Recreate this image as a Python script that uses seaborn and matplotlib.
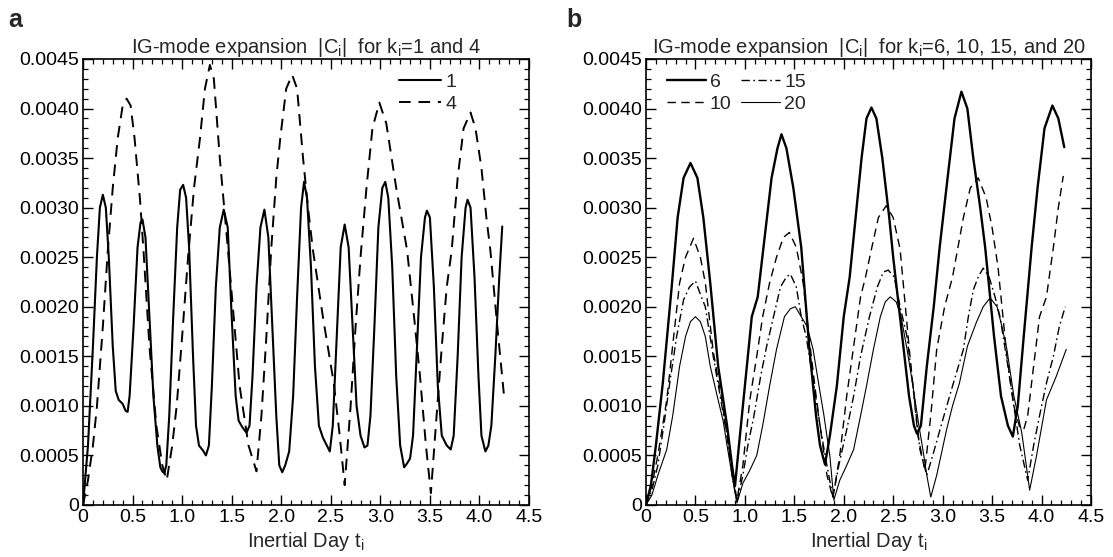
import numpy as np
import matplotlib
matplotlib.use("Agg")
import matplotlib.pyplot as plt
from matplotlib.ticker import MultipleLocator, FuncFormatter
import seaborn as sns

sns.set_theme(style="ticks")
plt.rcParams["font.family"] = ["Liberation Sans", "DejaVu Sans"]
plt.rcParams["mathtext.fontset"] = "custom"
plt.rcParams["mathtext.rm"] = "Liberation Sans"

# panel a: k_i = 1 (solid) and 4 (dashed)
t_k1 = [0.00, 0.05, 0.10, 0.14, 0.17, 0.20, 0.23, 0.26, 0.30, 0.33, 0.36, 0.40, 0.43, 0.45,
        0.47, 0.51, 0.55, 0.58, 0.60, 0.63, 0.67, 0.71, 0.75, 0.78, 0.80, 0.82, 0.84, 0.87,
        0.91, 0.95, 0.98, 1.01, 1.04, 1.07, 1.11, 1.14, 1.17, 1.21, 1.24, 1.27, 1.30, 1.34,
        1.38, 1.42, 1.46, 1.50, 1.54, 1.57, 1.61, 1.65, 1.68, 1.71, 1.75, 1.79, 1.83, 1.87,
        1.91, 1.95, 1.98, 2.01, 2.04, 2.08, 2.12, 2.16, 2.20, 2.23, 2.26, 2.30, 2.34, 2.38,
        2.42, 2.46, 2.49, 2.52, 2.56, 2.60, 2.64, 2.68, 2.72, 2.76, 2.80, 2.84, 2.87, 2.90,
        2.94, 2.98, 3.02, 3.05, 3.08, 3.12, 3.16, 3.20, 3.24, 3.27, 3.30, 3.33, 3.37, 3.41,
        3.45, 3.47, 3.50, 3.54, 3.58, 3.62, 3.67, 3.71, 3.74, 3.78, 3.82, 3.86, 3.88, 3.91,
        3.95, 3.99, 4.02, 4.06, 4.09, 4.12, 4.16, 4.20, 4.23]
c_k1 = [0.0, 0.0006, 0.0016, 0.0025, 0.0030, 0.00313, 0.0030, 0.0025, 0.0016, 0.00115, 0.00106,
        0.00102, 0.00095, 0.00094, 0.0011, 0.0018, 0.0026, 0.00285, 0.00288, 0.0027, 0.0019,
        0.0011, 0.0006, 0.00038, 0.00034, 0.00032, 0.0004, 0.0009, 0.0019, 0.0028, 0.00318,
        0.00323, 0.0031, 0.0026, 0.0015, 0.0008, 0.0006, 0.00055, 0.0005, 0.0006, 0.0012,
        0.0022, 0.0028, 0.00298, 0.0028, 0.0019, 0.0011, 0.00085, 0.00078, 0.00073, 0.0008,
        0.0013, 0.0022, 0.0028, 0.00298, 0.0027, 0.0018, 0.0009, 0.0004, 0.00033, 0.0004,
        0.00054, 0.0011, 0.0021, 0.0030, 0.00326, 0.0031, 0.0024, 0.0014, 0.0008, 0.00068,
        0.0006, 0.00054, 0.0008, 0.0017, 0.0026, 0.00283, 0.0026, 0.0018, 0.0010, 0.0007,
        0.00058, 0.0006, 0.0009, 0.0018, 0.0028, 0.0032, 0.00326, 0.0031, 0.0024, 0.0013,
        0.0006, 0.00038, 0.00042, 0.00047, 0.0007, 0.0016, 0.0025, 0.0029, 0.00297, 0.0029,
        0.0022, 0.0012, 0.0007, 0.0006, 0.00056, 0.0007, 0.0015, 0.0025, 0.0030, 0.00308,
        0.0030, 0.0023, 0.0013, 0.0007, 0.00054, 0.0006, 0.0008, 0.0015, 0.0023, 0.00281]

t_k4 = [0.00, 0.05, 0.10, 0.14, 0.20, 0.25, 0.30, 0.35, 0.40, 0.44, 0.48, 0.52, 0.575, 0.61,
        0.67, 0.74, 0.80, 0.845, 0.90, 0.945, 1.00, 1.06, 1.12, 1.18, 1.23, 1.28, 1.32, 1.38,
        1.46, 1.52, 1.58, 1.67, 1.75, 1.80, 1.85, 1.90, 1.95, 1.99, 2.05, 2.11, 2.16, 2.22,
        2.27, 2.32, 2.42, 2.53, 2.59, 2.64, 2.70, 2.75, 2.80, 2.86, 2.92, 2.99, 3.06, 3.16,
        3.27, 3.34, 3.40, 3.46, 3.51, 3.56, 3.62, 3.67, 3.72, 3.78, 3.84, 3.91, 3.96, 4.02,
        4.07, 4.11, 4.18, 4.25]
c_k4 = [0.0, 0.00025, 0.0006, 0.00099, 0.0018, 0.00257, 0.0032, 0.0037, 0.00403, 0.0041,
        0.00403, 0.0037, 0.00308, 0.00257, 0.0016, 0.0008, 0.0004, 0.00025, 0.0006, 0.0010,
        0.0017, 0.0025, 0.0032, 0.0037, 0.0042, 0.00444, 0.0043, 0.0035, 0.0026, 0.0019,
        0.0012, 0.0006, 0.00034, 0.0009, 0.0017, 0.0026, 0.0033, 0.0037, 0.0042, 0.00434,
        0.0042, 0.0035, 0.0030, 0.00257, 0.0019, 0.00123, 0.0007, 0.0002, 0.0010, 0.0018,
        0.0025, 0.0032, 0.0038, 0.00406, 0.00385, 0.0032, 0.00257, 0.0019, 0.0013, 0.0006,
        0.00012, 0.0008, 0.0016, 0.0022, 0.00257, 0.0033, 0.0038, 0.00396, 0.0038, 0.0034,
        0.0029, 0.00257, 0.0018, 0.00108]

# panel b: k_i = 6, 10, 15, 20
t_k6 = [0.00, 0.05, 0.10, 0.17, 0.26, 0.32, 0.38, 0.45, 0.52, 0.58, 0.65, 0.73, 0.82, 0.87,
        0.90, 0.94, 1.00, 1.07, 1.13, 1.20, 1.27, 1.33, 1.37, 1.42, 1.49, 1.57, 1.65, 1.72,
        1.76, 1.81, 1.86, 1.93, 2.00, 2.06, 2.12, 2.18, 2.23, 2.28, 2.33, 2.39, 2.46, 2.50,
        2.58, 2.66, 2.71, 2.74, 2.78, 2.84, 2.91, 2.97, 3.05, 3.12, 3.19, 3.25, 3.31, 3.38,
        3.43, 3.52, 3.59, 3.66, 3.71, 3.76, 3.82, 3.90, 3.96, 4.03, 4.11, 4.17, 4.23]
c_k6 = [0.0, 0.0002, 0.0006, 0.00123, 0.0022, 0.0029, 0.0033, 0.00345, 0.0033, 0.0029,
        0.00224, 0.0014, 0.0008, 0.0004, 0.00019, 0.0006, 0.0012, 0.0019, 0.0021, 0.0027,
        0.0033, 0.0036, 0.00374, 0.0036, 0.0032, 0.0026, 0.0016, 0.0009, 0.0006, 0.00041,
        0.0007, 0.0012, 0.0019, 0.0023, 0.0029, 0.0035, 0.0039, 0.00401, 0.0039, 0.0035,
        0.0029, 0.0025, 0.0018, 0.0011, 0.0008, 0.00072, 0.0008, 0.0014, 0.0020, 0.0026,
        0.0033, 0.0039, 0.00417, 0.0040, 0.0035, 0.0030, 0.0026, 0.0017, 0.0011, 0.0008,
        0.00069, 0.0010, 0.0017, 0.0026, 0.0032, 0.0038, 0.00403, 0.0039, 0.00361]

t_k10 = [0.00, 0.06, 0.12, 0.21, 0.28, 0.34, 0.40, 0.48, 0.55, 0.60, 0.68, 0.76, 0.82, 0.88,
         0.92, 0.98, 1.05, 1.12, 1.18, 1.25, 1.32, 1.39, 1.45, 1.52, 1.59, 1.66, 1.72, 1.76,
         1.83, 1.89, 1.96, 2.03, 2.10, 2.17, 2.22, 2.28, 2.35, 2.43, 2.50, 2.57, 2.66, 2.75,
         2.82, 2.88, 2.94, 3.02, 3.10, 3.21, 3.28, 3.36, 3.44, 3.50, 3.56, 3.65, 3.72, 3.78,
         3.82, 3.86, 3.92, 3.98, 4.05, 4.12, 4.17, 4.22]
c_k10 = [0.0, 0.0002, 0.0005, 0.00106, 0.0017, 0.00224, 0.0025, 0.00269, 0.0025, 0.00224,
         0.00155, 0.0011, 0.0007, 0.0003, 0.00005, 0.0004, 0.00106, 0.0015, 0.0019, 0.00224,
         0.0025, 0.0027, 0.00275, 0.0026, 0.00224, 0.0016, 0.0011, 0.0008, 0.0003, 0.00007,
         0.0005, 0.0011, 0.0016, 0.0021, 0.0023, 0.00258, 0.0029, 0.00302, 0.0029, 0.00258,
         0.0016, 0.0007, 0.00035, 0.0009, 0.00157, 0.0020, 0.0023, 0.0029, 0.0032, 0.0033,
         0.0031, 0.0028, 0.0024, 0.0015, 0.0010, 0.00078, 0.00076, 0.0009, 0.0014, 0.0019,
         0.0021, 0.0026, 0.0030, 0.00332]

t_k15 = [0.00, 0.06, 0.12, 0.18, 0.24, 0.31, 0.38, 0.44, 0.50, 0.56, 0.60, 0.68, 0.75, 0.82,
         0.87, 0.92, 0.98, 1.03, 1.09, 1.16, 1.22, 1.29, 1.36, 1.42, 1.46, 1.52, 1.57, 1.62,
         1.70, 1.76, 1.82, 1.89, 1.95, 2.03, 2.10, 2.17, 2.26, 2.34, 2.40, 2.45, 2.51, 2.57,
         2.64, 2.70, 2.77, 2.84, 2.90, 3.01, 3.10, 3.21, 3.26, 3.31, 3.36, 3.41, 3.47, 3.53,
         3.58, 3.66, 3.72, 3.78, 3.86, 3.92, 3.98, 4.05, 4.12, 4.18, 4.24]
c_k15 = [0.0, 0.00015, 0.0004, 0.0008, 0.00123, 0.0017, 0.00207, 0.0022, 0.00226, 0.0021,
         0.0020, 0.0015, 0.0011, 0.0007, 0.0003, 0.00003, 0.0003, 0.0006, 0.00089, 0.0013,
         0.0016, 0.0019, 0.0022, 0.0023, 0.00233, 0.0022, 0.0019, 0.0017, 0.0012, 0.0008,
         0.00045, 0.00008, 0.0004, 0.00076, 0.0011, 0.0015, 0.0019, 0.0022, 0.00235, 0.00237,
         0.0023, 0.0020, 0.0017, 0.0012, 0.00056, 0.0003, 0.0005, 0.00089, 0.0012, 0.00157,
         0.0019, 0.00217, 0.0023, 0.00239, 0.0023, 0.0021, 0.0019, 0.0014, 0.0010, 0.0006,
         0.00025, 0.0006, 0.0009, 0.00123, 0.0015, 0.0018, 0.0020]

t_k20 = [0.00, 0.06, 0.12, 0.21, 0.27, 0.34, 0.40, 0.45, 0.50, 0.55, 0.60, 0.65, 0.72, 0.78,
         0.82, 0.87, 0.92, 0.98, 1.05, 1.12, 1.18, 1.25, 1.32, 1.40, 1.46, 1.51, 1.57, 1.63,
         1.69, 1.75, 1.80, 1.86, 1.90, 1.96, 2.03, 2.10, 2.17, 2.23, 2.30, 2.37, 2.42, 2.47,
         2.53, 2.58, 2.64, 2.70, 2.76, 2.80, 2.84, 2.88, 2.94, 3.04, 3.10, 3.17, 3.25, 3.34,
         3.41, 3.48, 3.55, 3.60, 3.65, 3.72, 3.80, 3.88, 3.95, 4.05, 4.15, 4.25]
c_k20 = [0.0, 0.0001, 0.0003, 0.00056, 0.0009, 0.0014, 0.0017, 0.00185, 0.0019, 0.00185,
         0.0017, 0.0014, 0.0011, 0.00085, 0.0006, 0.0003, 0.00002, 0.00022, 0.00035, 0.0005,
         0.0008, 0.0012, 0.00157, 0.0019, 0.00198, 0.0020, 0.0019, 0.0018, 0.00157, 0.0012,
         0.0009, 0.00049, 0.00005, 0.00025, 0.0004, 0.00056, 0.0009, 0.0012, 0.00157, 0.0019,
         0.00205, 0.0021, 0.00205, 0.0019, 0.00157, 0.0012, 0.0008, 0.00056, 0.0003, 0.00008,
         0.0003, 0.00076, 0.0010, 0.00123, 0.0016, 0.00184, 0.0020, 0.00209, 0.0020, 0.0018,
         0.00157, 0.0011, 0.00073, 0.00015, 0.0005, 0.00106, 0.0013, 0.00157]

titles = [r"IG-mode expansion  |C$_\mathregular{i}$|  for k$_\mathregular{i}$=1 and 4",
          r"IG-mode expansion  |C$_\mathregular{i}$|  for k$_\mathregular{i}$=6, 10, 15, and 20"]
panel_tags = ["a", "b"]
xlabel = r"Inertial Day t$_\mathregular{i}$"

fig = plt.figure(figsize=(11.13, 5.57), dpi=100)
ax_a = fig.add_axes([0.0746, 0.0934, 0.4007, 0.8007])
ax_b = fig.add_axes([0.5804, 0.0934, 0.3998, 0.8007])

sns.lineplot(x=t_k1, y=c_k1, ax=ax_a, color="black", linewidth=1.5, label="1",
             estimator=None, sort=False)
sns.lineplot(x=t_k4, y=c_k4, ax=ax_a, color="black", linewidth=1.4, linestyle=(0, (6, 4)),
             label="4", estimator=None, sort=False)

sns.lineplot(x=t_k6, y=c_k6, ax=ax_b, color="black", linewidth=1.7, label="6",
             estimator=None, sort=False)
sns.lineplot(x=t_k10, y=c_k10, ax=ax_b, color="black", linewidth=1.0, linestyle=(0, (6, 4)),
             label="10", estimator=None, sort=False)
sns.lineplot(x=t_k15, y=c_k15, ax=ax_b, color="black", linewidth=1.0,
             linestyle=(0, (6, 2.5, 1.2, 2.5)), label="15", estimator=None, sort=False)
sns.lineplot(x=t_k20, y=c_k20, ax=ax_b, color="black", linewidth=0.8, label="20",
             estimator=None, sort=False)

yfmt = FuncFormatter(lambda v, p: "0" if abs(v) < 1e-12 else f"{v:.4f}")
xfmt = FuncFormatter(lambda v, p: "0" if abs(v) < 1e-12 else f"{v:.1f}")

for ax, title, tag in zip([ax_a, ax_b], titles, panel_tags):
    ax.set_xlim(0, 4.5)
    ax.set_ylim(0, 0.0045)
    ax.xaxis.set_major_locator(MultipleLocator(0.5))
    ax.xaxis.set_minor_locator(MultipleLocator(0.1))
    ax.yaxis.set_major_locator(MultipleLocator(0.0005))
    ax.yaxis.set_minor_locator(MultipleLocator(0.0001))
    ax.xaxis.set_major_formatter(xfmt)
    ax.yaxis.set_major_formatter(yfmt)
    ax.tick_params(which="both", direction="in", top=True, right=True, colors="black",
                   labelsize=14, pad=3)
    ax.tick_params(which="major", length=7, width=1.0)
    ax.tick_params(which="minor", length=3.6, width=0.9)
    for s in ax.spines.values():
        s.set_linewidth(1.2)
        s.set_color("black")
    ax.set_title(title, fontsize=14.5, pad=4)
    ax.set_xlabel(xlabel, fontsize=14.5, labelpad=3)
    ax.set_ylabel("")

fig.text(0.007, 0.985, "a", fontsize=18, fontweight="bold", va="top", ha="left")
fig.text(0.509, 0.985, "b", fontsize=18, fontweight="bold", va="top", ha="left")

ax_a.legend(loc="upper left", bbox_to_anchor=(0.69, 0.985), frameon=False, fontsize=14,
            handlelength=2.2, handletextpad=0.2, labelspacing=0.2, borderaxespad=0)
ax_b.legend(loc="upper left", bbox_to_anchor=(0.03, 0.985), frameon=False, fontsize=14,
            ncol=2, handlelength=2.0, handletextpad=0.2, labelspacing=0.2,
            columnspacing=0.5, borderaxespad=0)

fig.savefig("out.png", dpi=100)
